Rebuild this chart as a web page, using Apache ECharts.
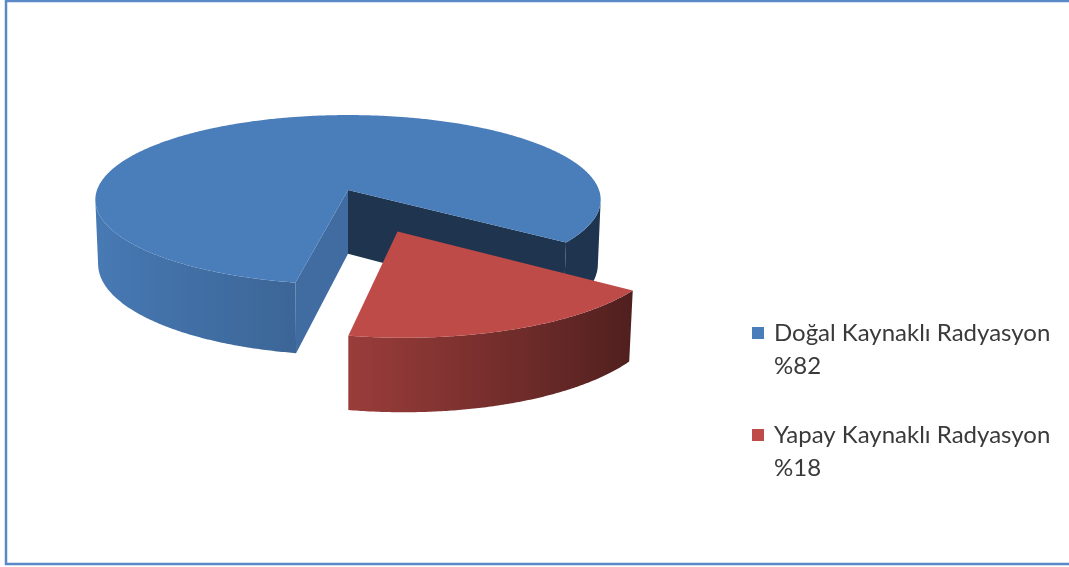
<!DOCTYPE html>
<html>
<head>
<meta charset="utf-8">
<script src="https://cdn.jsdelivr.net/npm/echarts@6/dist/echarts.min.js"></script>
<style>
  html, body { margin: 0; padding: 0; background: #ffffff; }
  #chart { width: 1069px; height: 567px; }
</style>
</head>
<body>
<div id="chart"></div>
<script>
// Chart data
const categories = ['Doğal Kaynaklı Radyasyon', 'Yapay Kaynaklı Radyasyon'];
const values = [82, 18];
const colors = ['#4A7EBB', '#BE4B48'];

// 3D pie view settings (layout / style only)
const view = {
  cx: 348, cy: 190,        // screen position of the pie's top centre
  radius: 251,             // screen radius (px)
  tilt: 19.45,             // camera elevation (deg)
  distance: 8.2,           // camera distance, in radii (perspective)
  depth: 0.272,            // slab thickness, in radii
  startAngle: 100.7,       // first slice starts here (deg, clockwise from 3 o'clock)
  explode: [0, 0.505]      // pull-out along each slice's bisector, in radii
};

const RAD = Math.PI / 180;
const sinA = Math.sin(view.tilt * RAD), cosA = Math.cos(view.tilt * RAD);
const D = view.distance;

function project(u, v, w) {
  const z = v * cosA + w * sinA;
  const k = D / (D - z);
  return [view.cx + view.radius * u * k, view.cy + view.radius * (v * sinA - w * cosA) * k];
}

function shade(hex, f) {
  const n = parseInt(hex.slice(1), 16);
  const r = Math.round(((n >> 16) & 255) * f);
  const g = Math.round(((n >> 8) & 255) * f);
  const b = Math.round((n & 255) * f);
  return 'rgb(' + r + ',' + g + ',' + b + ')';
}

// brightness of the outer wall as a function of cos(angle): lit on the left, dark on the right
function wallLight(c) {
  const pts = [[-1, 0.97], [-0.16, 0.8], [0.8, 0.42], [1, 0.42]];
  for (let i = 0; i < pts.length - 1; i++) {
    const [x0, y0] = pts[i], [x1, y1] = pts[i + 1];
    if (c <= x1) return y0 + (y1 - y0) * (c - x0) / (x1 - x0);
  }
  return pts[pts.length - 1][1];
}

const total = values.reduce((s, v) => s + v, 0);
const slices = [];
(function () {
  let acc = 0;
  values.forEach((v, i) => {
    const a0 = view.startAngle + acc / total * 360;
    acc += v;
    const a1 = view.startAngle + acc / total * 360;
    const e = view.explode[i] || 0;
    const mid = (a0 + a1) / 2 * RAD;
    slices.push({ a0, a1, ou: e * Math.cos(mid), ov: e * Math.sin(mid) });
  });
})();

function renderSlice(params) {
  const idx = params.seriesIndex;
  const s = slices[idx];
  const base = colors[idx];
  const H = view.depth;
  const { ou, ov, a0, a1 } = s;
  const children = [];

  // camera position in pie space
  const cam = [0, D * cosA, D * sinA];

  // radial cut faces
  const cutFace = (a, normal, light) => {
    const dot = normal[0] * (cam[0] - ou) + normal[1] * (cam[1] - ov);
    if (dot <= 0) return;
    const c = Math.cos(a * RAD), sn = Math.sin(a * RAD);
    children.push({
      type: 'polygon',
      shape: { points: [project(ou, ov, 0), project(ou + c, ov + sn, 0), project(ou + c, ov + sn, -H), project(ou, ov, -H)] },
      style: { fill: shade(base, light) }
    });
  };
  cutFace(a0, [Math.sin(a0 * RAD), -Math.cos(a0 * RAD)], 0.86);
  cutFace(a1, [-Math.sin(a1 * RAD), Math.cos(a1 * RAD)], 0.42);

  // outer wall: split into runs facing the camera
  const steps = Math.max(8, Math.ceil((a1 - a0) * 2));
  const runs = [];
  let cur = null;
  for (let i = 0; i <= steps; i++) {
    const a = a0 + (a1 - a0) * i / steps;
    const c = Math.cos(a * RAD), sn = Math.sin(a * RAD);
    const vis = -ou * c - ov * sn - 1 + D * cosA * sn > 0;
    if (vis) { if (!cur) { cur = []; runs.push(cur); } cur.push(a); }
    else cur = null;
  }
  runs.forEach(run => {
    if (run.length < 2) return;
    const top = run.map(a => project(ou + Math.cos(a * RAD), ov + Math.sin(a * RAD), 0));
    const bot = run.map(a => project(ou + Math.cos(a * RAD), ov + Math.sin(a * RAD), -H));
    const xs = top.map(p => p[0]);
    const minX = Math.min(...xs), maxX = Math.max(...xs);
    const span = Math.max(1, maxX - minX);
    const stops = run.map((a, i) => ({
      offset: Math.min(1, Math.max(0, (top[i][0] - minX) / span)),
      color: shade(base, wallLight(Math.cos(a * RAD)))
    })).sort((p, q) => p.offset - q.offset);
    children.push({
      type: 'polygon',
      shape: { points: top.concat(bot.reverse()) },
      style: { fill: new echarts.graphic.LinearGradient(0, 0, 1, 0, stops) }
    });
  });

  // top face
  const topPts = [project(ou, ov, 0)];
  for (let i = 0; i <= steps; i++) {
    const a = a0 + (a1 - a0) * i / steps;
    topPts.push(project(ou + Math.cos(a * RAD), ov + Math.sin(a * RAD), 0));
  }
  children.push({ type: 'polygon', shape: { points: topPts }, style: { fill: base } });

  return { type: 'group', children };
}

// legend drawn as graphic elements: swatch + two text lines
const legendGraphics = [];
categories.forEach((name, i) => {
  const y0 = 327 + i * 102;
  legendGraphics.push({
    type: 'rect', shape: { x: 752, y: y0, width: 12, height: 12 },
    style: { fill: colors[i] }
  });
  legendGraphics.push({
    type: 'text', x: 774, y: y0 + 6,
    style: { text: name, fill: '#3a3a3a', font: '24px Lato', verticalAlign: 'middle' }
  });
  legendGraphics.push({
    type: 'text', x: 774, y: y0 + 39,
    style: { text: '%' + values[i], fill: '#3a3a3a', font: '24px Lato', verticalAlign: 'middle' }
  });
});

const chart = echarts.init(document.getElementById('chart'), null, { renderer: 'canvas' });
chart.setOption({
  backgroundColor: '#ffffff',
  animation: false,
  graphic: [
    { type: 'rect', shape: { x: 6, y: 1, width: 1100, height: 563 }, style: { fill: 'none', stroke: '#5B88C6', lineWidth: 2.5 } }
  ].concat(legendGraphics),
  series: categories.map((name, i) => ({
    type: 'custom',
    name,
    coordinateSystem: 'none',
    silent: true,
    data: [values[i]],
    renderItem: renderSlice
  }))
});
</script>
</body>
</html>
